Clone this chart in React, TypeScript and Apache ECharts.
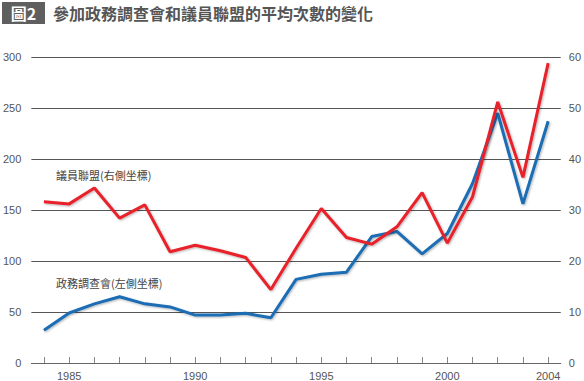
import React, { useEffect, useRef } from "react";
import * as echarts from "echarts";

const years = ["1984","1985","1986","1987","1988","1989","1990","1991","1992","1993","1994","1995","1996","1997","1998","1999","2000","2001","2002","2003","2004"];
const shownYears = ["1985", "1990", "1995", "2000", "2004"];
// 政務調査會 (left axis)
const policyCouncil = [32, 49, 58, 65, 58, 55, 47, 47, 48.7, 44.4, 82, 87, 89, 124, 129, 107, 127, 176, 245, 156, 237];
// 議員聯盟 (right axis)
const dietLeagues = [31.6, 31.2, 34.3, 28.4, 31, 21.8, 23.1, 22.0, 20.7, 14.4, 22.5, 30.3, 24.6, 23.3, 26.7, 33.4, 23.5, 32.6, 51.2, 36.4, 58.8];

const title = "參加政務調查會和議員聯盟的平均次數的變化";
const figLabel = "圖2";
const redLabel = "議員聯盟(右側坐標)";
const blueLabel = "政務調查會(左側坐標)";

const NUM_FONT = "Liberation Sans, Arial, sans-serif";
const CJK_FONT = "Noto Sans CJK TC, sans-serif";

export default function App() {
  const ref = useRef<HTMLDivElement>(null);
  useEffect(() => {
    if (!ref.current) return;
    const chart = echarts.init(ref.current, null, { renderer: "svg" });
    const shadow = {
      shadowColor: "rgba(0,0,0,0.3)",
      shadowBlur: 2,
      shadowOffsetX: 1,
      shadowOffsetY: 1,
    };
    chart.setOption({
      animation: false,
      backgroundColor: "#ffffff",
      grid: { left: 30, right: 22, top: 57, bottom: 18, containLabel: false },
      xAxis: {
        type: "category",
        data: years,
        boundaryGap: true,
        axisLine: { show: true, lineStyle: { color: "#666", width: 1 } },
        axisTick: {
          show: true,
          inside: true,
          length: 6,
          interval: 0,
          alignWithLabel: true,
          lineStyle: { color: "#888", width: 1 },
        },
        axisLabel: {
          interval: (_i: number, v: string) => shownYears.includes(v),
          color: "#555",
          fontSize: 11,
          fontFamily: NUM_FONT,
          margin: 7,
        },
        splitLine: { show: false },
      },
      yAxis: [
        {
          type: "value",
          min: 0,
          max: 300,
          interval: 50,
          position: "left",
          axisLine: { show: false },
          axisTick: { show: false },
          axisLabel: { color: "#555", fontSize: 11, fontFamily: NUM_FONT, margin: 10 },
          splitLine: { show: true, lineStyle: { color: "#555", width: 1 } },
        },
        {
          type: "value",
          min: 0,
          max: 60,
          interval: 10,
          position: "right",
          axisLine: { show: false },
          axisTick: { show: false },
          axisLabel: { color: "#555", fontSize: 11, fontFamily: NUM_FONT, margin: 8 },
          splitLine: { show: false },
        },
      ],
      series: [
        {
          type: "line",
          name: "政務調查會",
          data: policyCouncil,
          yAxisIndex: 0,
          symbol: "none",
          lineStyle: { color: "#1a6db3", width: 3, ...shadow },
          itemStyle: { color: "#1a6db3" },
        },
        {
          type: "line",
          name: "議員聯盟",
          data: dietLeagues,
          yAxisIndex: 1,
          symbol: "none",
          lineStyle: { color: "#e8202a", width: 3, ...shadow },
          itemStyle: { color: "#e8202a" },
        },
      ],
      graphic: [
        {
          type: "rect",
          shape: { x: 2, y: 2, width: 43, height: 22 },
          style: { fill: "#5f5f5f" },
        },
        {
          type: "text",
          x: 23.5,
          y: 13,
          style: {
            text: figLabel,
            fill: "#ffffff",
            fontSize: 16,
            fontWeight: "bold",
            fontFamily: CJK_FONT,
            align: "center",
            verticalAlign: "middle",
          },
        },
        {
          type: "text",
          x: 53,
          y: 13,
          style: {
            text: title,
            fill: "#555",
            fontSize: 16,
            fontWeight: "bold",
            fontFamily: CJK_FONT,
            align: "left",
            verticalAlign: "middle",
          },
        },
        {
          type: "text",
          x: 56,
          y: 175,
          style: {
            text: redLabel,
            fill: "#444",
            fontSize: 11,
            fontFamily: CJK_FONT,
            align: "left",
            verticalAlign: "middle",
          },
        },
        {
          type: "text",
          x: 56,
          y: 283,
          style: {
            text: blueLabel,
            fill: "#444",
            fontSize: 11,
            fontFamily: CJK_FONT,
            align: "left",
            verticalAlign: "middle",
          },
        },
      ],
    });
    return () => chart.dispose();
  }, []);
  return (
    <div
      ref={ref}
      style={{ width: 584, height: 381, position: "absolute", left: 0, top: 0 }}
    />
  );
}
